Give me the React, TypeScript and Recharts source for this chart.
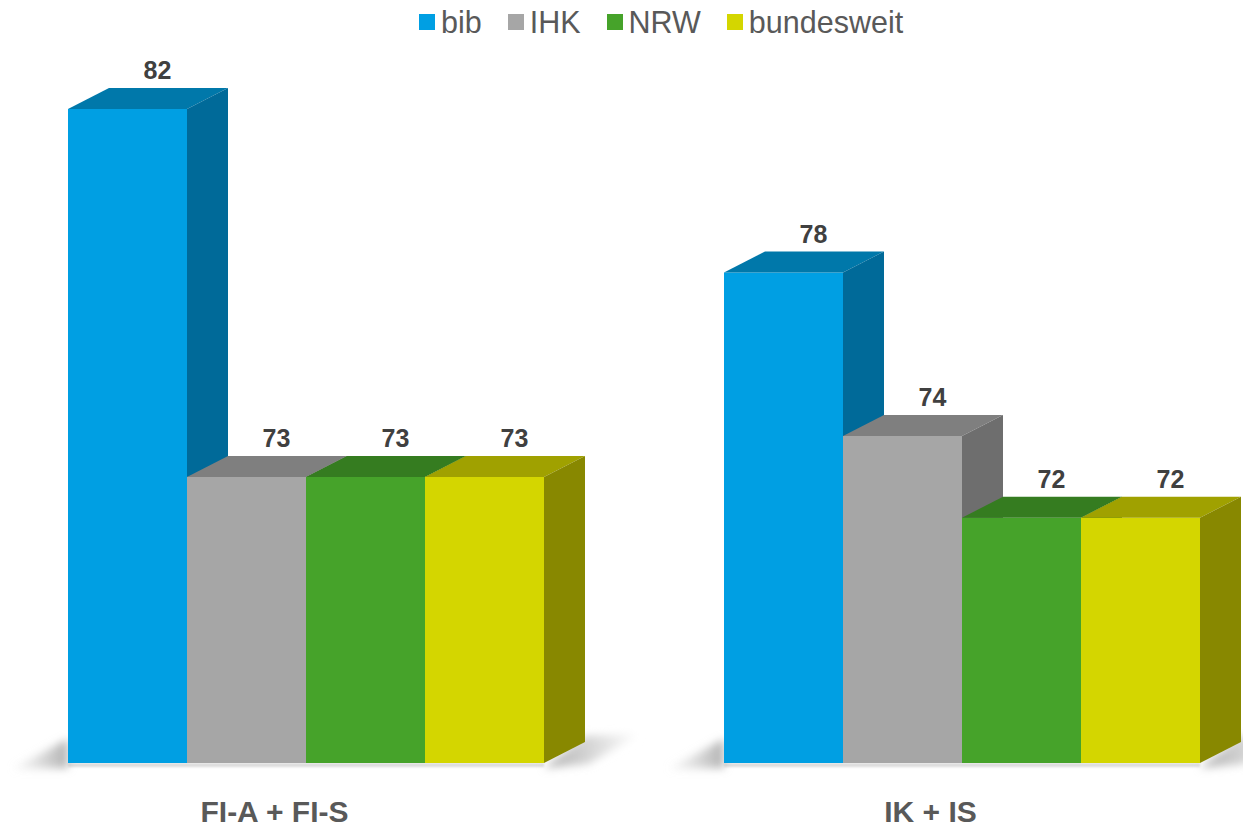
import React from 'react';
import { BarChart, Bar, XAxis, YAxis, LabelList } from 'recharts';

const categories = ['FI-A + FI-S', 'IK + IS'];
const bib = [82, 78];
const ihk = [73, 74];
const nrw = [73, 72];
const bundesweit = [73, 72];

const data = categories.map((name, i) => ({
    name,
    bib: bib[i],
    IHK: ihk[i],
    NRW: nrw[i],
    bundesweit: bundesweit[i],
}));

const series = [
    { key: 'bib', front: '#009fe3', top: '#0078aa', side: '#006a99' },
    { key: 'IHK', front: '#a6a6a6', top: '#7f7f7f', side: '#6e6e6e' },
    { key: 'NRW', front: '#46a32a', top: '#357c20', side: '#357c20' },
    { key: 'bundesweit', front: '#d4d600', top: '#a0a100', side: '#888800' },
];

const FONT = '"Liberation Sans", Arial, sans-serif';
const DX = 41;
const DY = 21;

// front, top and right side of one box, optional floor shadow behind it
function Box3D({ x, y, width, height, front, top, side, shadow }: any) {
    const base = y + height;
    const right = x + width;
    return (
        <g>
            {shadow === 'left' && (
                <>
                    <rect x={x} y={base} width={width * 4} height={4} fill="#dcdcdc" filter="url(#soft)" />
                    <polygon
                        points={`${x - 56},${base + 6} ${x},${base - 24} ${x},${base + 5}`}
                        fill="url(#shadowLeft)"
                        filter="url(#blur)"
                    />
                </>
            )}
            {shadow === 'right' && (
                <polygon
                    points={`${right},${base + 5} ${right + DX},${base - 27} ${right + 96},${base - 29} ${right + 44},${base + 1}`}
                    fill="url(#shadowRight)"
                    filter="url(#blur)"
                />
            )}
            <rect x={x} y={y} width={width} height={height} fill={front} />
            <polygon
                points={`${x},${y} ${x + DX},${y - DY} ${right + DX},${y - DY} ${right},${y}`}
                fill={top}
            />
            <polygon
                points={`${right},${y} ${right + DX},${y - DY} ${right + DX},${base - DY} ${right},${base}`}
                fill={side}
            />
        </g>
    );
}

function ValueLabel({ x, y, width, value }: any) {
    return (
        <text
            x={x + width / 2 + 30}
            y={y - 39}
            textAnchor="middle"
            dominantBaseline="central"
            fontFamily={FONT}
            fontSize={25}
            fontWeight="bold"
            fill="#404040"
        >
            {value}
        </text>
    );
}

function TopLegend() {
    return (
        <div style={{ position: 'absolute', left: 419, top: 5, display: 'flex', alignItems: 'center', fontFamily: FONT, fontSize: 30.5, color: '#595959', lineHeight: '34px', whiteSpace: 'nowrap' }}>
            {series.map((s, i) => (
                <div key={s.key} style={{ display: 'flex', alignItems: 'center', marginLeft: i === 0 ? 0 : 26 }}>
                    <span style={{ width: 16, height: 16, background: s.front, marginRight: 6, display: 'inline-block' }} />
                    <span>{s.key}</span>
                </div>
            ))}
        </div>
    );
}

export default function App() {
    return (
        <div style={{ position: 'absolute', left: 0, top: 0, width: 1243, height: 825, overflow: 'hidden', background: '#fff' }}>
            <div style={{ marginLeft: -30 }}>
                <BarChart
                    width={1330}
                    height={825}
                    data={data}
                    margin={{ top: 27.25, right: 9.5, left: 8.5, bottom: 0 }}
                    barCategoryGap={89.5}
                    barGap={0}
                >
                    <defs>
                        <filter id="blur" x="-30%" y="-50%" width="160%" height="200%">
                            <feGaussianBlur stdDeviation="4" />
                        </filter>
                        <filter id="soft" x="-5%" y="-200%" width="110%" height="500%">
                            <feGaussianBlur stdDeviation="1" />
                        </filter>
                        <linearGradient id="shadowLeft" x1="0" y1="0" x2="1" y2="0">
                            <stop offset="0%" stopColor="#d8d8d8" stopOpacity={0.2} />
                            <stop offset="100%" stopColor="#b0b0b0" />
                        </linearGradient>
                        <linearGradient id="shadowRight" x1="0" y1="0" x2="1" y2="0">
                            <stop offset="0%" stopColor="#b0b0b0" />
                            <stop offset="100%" stopColor="#ffffff" />
                        </linearGradient>
                    </defs>
                    <XAxis
                        dataKey="name"
                        height={62}
                        axisLine={false}
                        tickLine={false}
                        interval={0}
                        tickMargin={32}
                        tick={{ fontFamily: FONT, fontSize: 30, fontWeight: 'bold', fill: '#595959', dx: -32 }}
                    />
                    <YAxis hide domain={[66, 84]} />
                    {series.map((s, i) => (
                        <Bar
                            key={s.key}
                            dataKey={s.key}
                            isAnimationActive={false}
                            fill={s.front}
                            shape={(props: any) => (
                                <Box3D
                                    {...props}
                                    front={s.front}
                                    top={s.top}
                                    side={s.side}
                                    shadow={i === 0 ? 'left' : i === series.length - 1 ? 'right' : undefined}
                                />
                            )}
                        >
                            <LabelList dataKey={s.key} content={<ValueLabel />} />
                        </Bar>
                    ))}
                </BarChart>
            </div>
            <TopLegend />
        </div>
    );
}
